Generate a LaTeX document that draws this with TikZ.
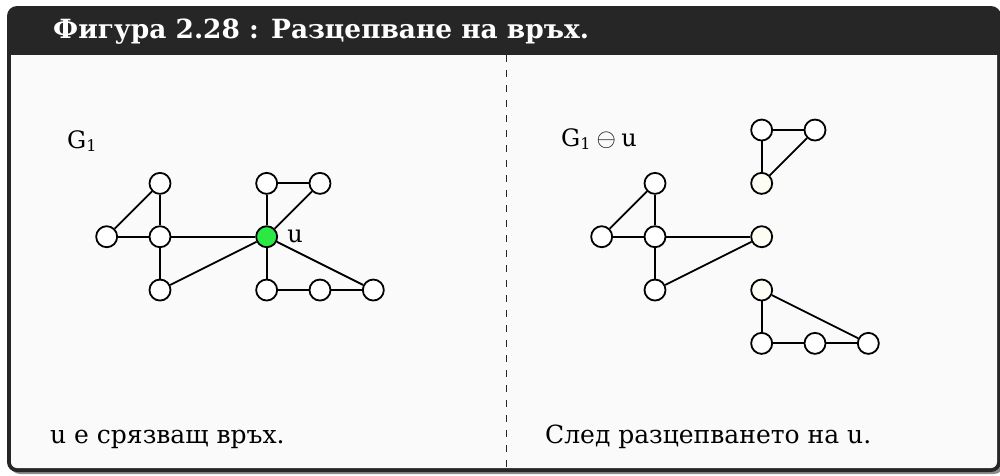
\documentclass[tikz,border=0pt]{standalone}
\usepackage{fontspec}
\setmainfont{DejaVu Serif}
\usepackage{xcolor}
\usetikzlibrary{positioning}
\definecolor{framedark}{HTML}{262626}
\definecolor{shadowgray}{HTML}{8C8C8C}
\definecolor{bodybg}{HTML}{FAFAFA}
\definecolor{cutgreen}{HTML}{2BE845}
\definecolor{splitfill}{HTML}{FDFDF4}
\newcommand{\vx}[1]{\mathrm{#1}}
\newcommand{\gone}{\vx{G}_{\hbox{\fontsize{16}{18}\selectfont 1}}}

\begin{document}
\begin{tikzpicture}[x=1pt, y=-1pt,
  vert/.style={circle, draw, line width=1.8pt, fill=white, minimum size=21pt, inner sep=0pt},
  cutv/.style={vert, fill=cutgreen},
  splitv/.style={vert, fill=splitfill},
  link/.style={line width=1.8pt},
  lbl/.style={font=\fontsize{24}{28}\selectfont, anchor=base west, inner sep=0pt},
  txt/.style={font=\fontsize{25}{30}\selectfont, anchor=base west, inner sep=0pt}]
\useasboundingbox (0,0) rectangle (1000,475);
% frame
\fill[shadowgray, rounded corners=10pt] (10,9) rectangle (1004,474);
\fill[framedark, rounded corners=10pt] (7,6) rectangle (1001,472);
\fill[bodybg] (11,55) {[rounded corners=6pt] -- (11,468) -- (997,468)} -- (997,55) -- cycle;
\node[anchor=base west, inner sep=0pt, text=white, font=\bfseries\fontsize{26.4}{31}\selectfont] (title) at (53,38)
  {Фигура 2.28 : Разцепване на връх.};
\coordinate (divtop) at (506,55);
\coordinate (divbot) at (506,468);
\draw[framedark, line width=1pt, dash pattern=on 7pt off 8pt] (divtop) -- (divbot);

% left: G_1
\begin{scope}[shift={(160pt,-236.7pt)}, x=53.33pt, y=-53.33pt]
  \node[vert] (la) at (0,-1) {};
  \node[vert] (lb) at (-1,0) {};
  \node[vert] (lc) at (0,0) {};
  \node[vert] (ld) at (0,1) {};
  \node[cutv] (lu) at (2,0) {};
  \node[vert] (le) at (2,-1) {};
  \node[vert] (lf) at (3,-1) {};
  \node[vert] (lg) at (2,1) {};
  \node[vert] (lh) at (3,1) {};
  \node[vert] (li) at (4,1) {};
  \foreach \s/\t in {la/lb, la/lc, lb/lc, lc/ld, lc/lu, ld/lu, lu/le, lu/lf, le/lf, lu/lg, lu/li, lg/lh, lh/li}
    \draw[link] (\s) -- (\t);
\end{scope}
\node[lbl] (lname) at (67,148) {$\gone$};
\node[font=\fontsize{24}{28}\selectfont, inner sep=0pt, right=9pt of lu] (ulbl) {$\vx{u}$};

% right: G_1 minus u
\begin{scope}[shift={(655pt,-236.7pt)}, x=53.33pt, y=-53.33pt]
  \node[vert] (ra) at (0,-1) {};
  \node[vert] (rb) at (-1,0) {};
  \node[vert] (rc) at (0,0) {};
  \node[vert] (rd) at (0,1) {};
  \node[splitv] (ru1) at (2,0) {};
  \node[vert] (rp) at (2,-2) {};
  \node[vert] (rq) at (3,-2) {};
  \node[splitv] (ru2) at (2,-1) {};
  \node[splitv] (ru3) at (2,1) {};
  \node[vert] (rg) at (2,2) {};
  \node[vert] (rh) at (3,2) {};
  \node[vert] (ri) at (4,2) {};
  \foreach \s/\t in {ra/rb, ra/rc, rb/rc, rc/rd, rc/ru1, rd/ru1, rp/rq, rp/ru2, rq/ru2, ru3/rg, ru3/ri, rg/rh, rh/ri}
    \draw[link] (\s) -- (\t);
\end{scope}
\node[lbl] (rname) at (561,146) {$\gone \ominus \vx{u}$};

% captions
\node[txt] (capl) at (50,443) {$\vx{u}$ е срязващ връх.};
\node[txt] (capr) at (545,443) {След разцепването на $\vx{u}$.};
\end{tikzpicture}
\end{document}
